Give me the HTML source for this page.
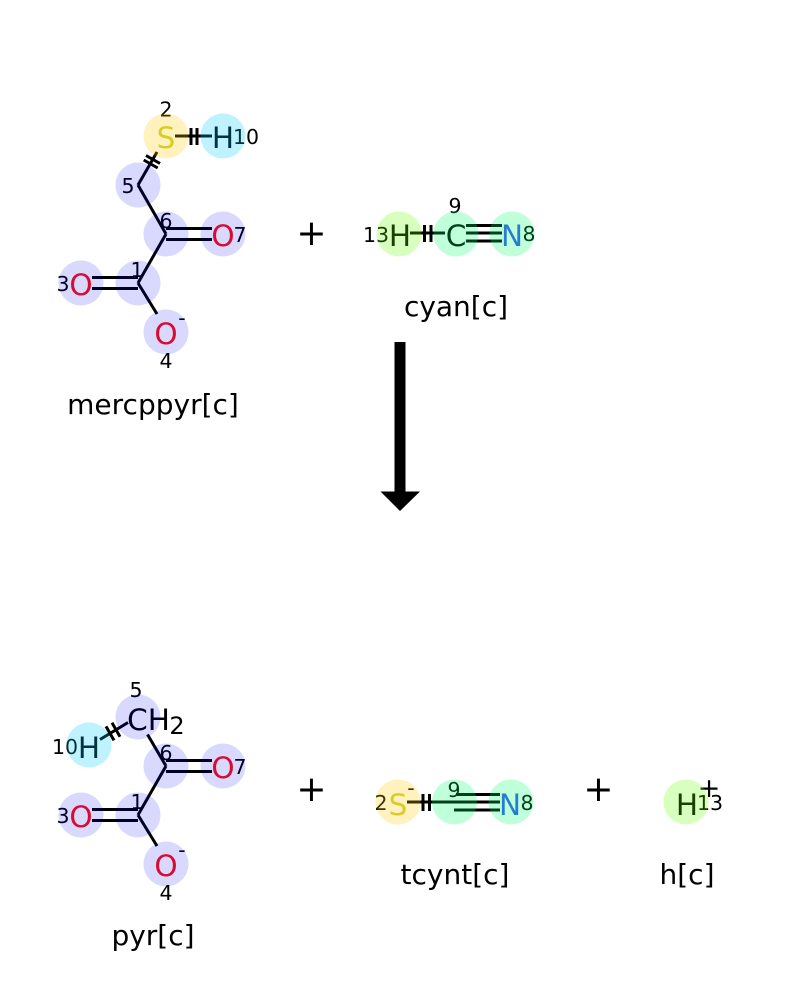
<!DOCTYPE html>
<html>
<head>
<meta charset="utf-8">
<style>
html,body{margin:0;padding:0;background:#fff;width:800px;height:1000px;overflow:hidden}
svg{display:block}
text{font-family:"DejaVu Sans",sans-serif;text-anchor:middle;fill:#000}
.a{font-size:29.5px}
.n{font-size:20.5px}
.l{font-size:28px}
.p{font-size:36px}
.O{fill:#ff0d0d}
.N{fill:#3050f8}
.S{fill:#cccc33}
line{stroke:#000;stroke-width:3}
.b{fill:#0000ff;fill-opacity:.15}
.c{fill:#00ccff;fill-opacity:.25}
.g{fill:#00ff66;fill-opacity:.25}
.h{fill:#66ff00;fill-opacity:.25}
.y{fill:#ffcc00;fill-opacity:.25}
</style>
</head>
<body>
<svg xmlns="http://www.w3.org/2000/svg" width="800" height="1000" viewBox="0 0 800 1000">
<!-- mercppyr bonds -->
<line x1="138" y1="185" x2="157" y2="152"/>
<line x1="143.7" y1="160" x2="157.7" y2="168"/>
<line x1="146" y1="155.5" x2="160" y2="163.5"/>
<line x1="175" y1="136" x2="212" y2="136"/>
<line x1="191" y1="128" x2="191" y2="145"/>
<line x1="197" y1="128" x2="197" y2="145"/>
<line x1="138" y1="185" x2="166" y2="234"/>
<line x1="166" y1="234" x2="138" y2="283"/>
<line x1="166" y1="228.5" x2="212" y2="228.5"/>
<line x1="166" y1="239.5" x2="212" y2="239.5"/>
<line x1="92" y1="277.5" x2="138" y2="277.5"/>
<line x1="92" y1="288.5" x2="138" y2="288.5"/>
<line x1="138" y1="283" x2="157" y2="314"/>
<!-- mercppyr text -->
<text class="a S" x="166" y="148">S</text>
<text class="a" x="223" y="148">H</text>
<text class="a O" x="223" y="246">O</text>
<text class="a O" x="81" y="295">O</text>
<text class="a O" x="166" y="344">O</text>
<text class="n" x="182" y="325">-</text>
<text class="n" x="166" y="116.5">2</text>
<text class="n" x="246" y="144">10</text>
<text class="n" x="128" y="193">5</text>
<text class="n" x="166" y="228">6</text>
<text class="n" x="240" y="242">7</text>
<text class="n" x="137" y="277">1</text>
<text class="n" x="63" y="291">3</text>
<text class="n" x="166" y="368">4</text>
<text class="l" x="153" y="414">mercppyr[c]</text>
<circle class="y" cx="166" cy="136" r="22.5"/>
<circle class="c" cx="223" cy="136" r="22.5"/>
<circle class="b" cx="138" cy="185" r="22.5"/>
<circle class="b" cx="166" cy="234" r="22.5"/>
<circle class="b" cx="223" cy="234" r="22.5"/>
<circle class="b" cx="138" cy="283" r="22.5"/>
<circle class="b" cx="81" cy="283" r="22.5"/>
<circle class="b" cx="166" cy="332" r="22.5"/>

<text class="p" x="311.5" y="245">+</text>

<!-- cyan -->
<line x1="410" y1="233" x2="445" y2="233"/>
<line x1="424.5" y1="225" x2="424.5" y2="242"/>
<line x1="431" y1="225" x2="431" y2="242"/>
<line x1="466" y1="225.5" x2="502" y2="225.5"/>
<line x1="466" y1="233" x2="502" y2="233"/>
<line x1="466" y1="241" x2="502" y2="241"/>
<text class="a" x="400" y="246">H</text>
<text class="a" x="456" y="246">C</text>
<text class="a N" x="512" y="246">N</text>
<text class="n" x="376" y="242">13</text>
<text class="n" x="455" y="213">9</text>
<text class="n" x="529" y="241">8</text>
<text class="l" x="456" y="316">cyan[c]</text>
<circle class="h" cx="399" cy="234" r="22.5"/>
<circle class="g" cx="456" cy="234" r="22.5"/>
<circle class="g" cx="512" cy="234" r="22.5"/>

<!-- arrow -->
<polygon points="394.5,342 405.5,342 405.5,491.5 420,491.5 400,511 380.5,491.5 394.5,491.5" fill="#000"/>

<!-- pyr bonds -->
<line x1="100" y1="739.5" x2="128" y2="722.5"/>
<line x1="106" y1="726.4" x2="114" y2="740.4"/>
<line x1="112" y1="722.8" x2="120" y2="736.8"/>
<line x1="147.5" y1="734.5" x2="166" y2="766"/>
<line x1="166" y1="766" x2="138" y2="815"/>
<line x1="166" y1="760.5" x2="212" y2="760.5"/>
<line x1="166" y1="771.5" x2="212" y2="771.5"/>
<line x1="92" y1="809.5" x2="138" y2="809.5"/>
<line x1="92" y1="820.5" x2="138" y2="820.5"/>
<line x1="138" y1="815" x2="157" y2="846"/>
<text class="a" x="148.5" y="730">CH</text>
<text style="font-size:24px" x="177" y="734">2</text>
<text class="a" x="89" y="758">H</text>
<text class="a O" x="223" y="778">O</text>
<text class="a O" x="81" y="827">O</text>
<text class="a O" x="166" y="876">O</text>
<text class="n" x="182" y="857">-</text>
<text class="n" x="136" y="697">5</text>
<text class="n" x="65" y="754">10</text>
<text class="n" x="166" y="760">6</text>
<text class="n" x="240" y="774">7</text>
<text class="n" x="137" y="809">1</text>
<text class="n" x="63" y="823">3</text>
<text class="n" x="166" y="900">4</text>
<text class="l" x="153" y="945">pyr[c]</text>
<circle class="b" cx="138" cy="717" r="22.5"/>
<circle class="c" cx="89" cy="745" r="22.5"/>
<circle class="b" cx="166" cy="766" r="22.5"/>
<circle class="b" cx="223" cy="766" r="22.5"/>
<circle class="b" cx="138" cy="815" r="22.5"/>
<circle class="b" cx="81" cy="815" r="22.5"/>
<circle class="b" cx="166" cy="864" r="22.5"/>

<text class="p" x="311.5" y="801">+</text>

<!-- tcynt -->
<line x1="407" y1="802" x2="454" y2="802"/>
<line x1="423" y1="794" x2="423" y2="811"/>
<line x1="429.5" y1="794" x2="429.5" y2="811"/>
<line x1="456" y1="794.5" x2="500" y2="794.5"/>
<line x1="454" y1="802" x2="500" y2="802"/>
<line x1="454" y1="810" x2="500" y2="810"/>
<text class="a S" x="398" y="815">S</text>
<text class="a N" x="510" y="815">N</text>
<text class="n" x="411" y="795">-</text>
<text class="n" x="381" y="810">2</text>
<text class="n" x="454" y="797">9</text>
<text class="n" x="527" y="810">8</text>
<text class="l" x="455" y="884">tcynt[c]</text>
<circle class="y" cx="398" cy="802" r="22.5"/>
<circle class="g" cx="454.5" cy="802" r="22.5"/>
<circle class="g" cx="511" cy="802" r="22.5"/>

<text class="p" x="598.5" y="801">+</text>

<!-- h -->
<text class="a" x="687" y="815">H</text>
<text style="font-size:27px" x="709" y="797">+</text>
<text class="n" x="710" y="810">13</text>
<text class="l" x="687" y="884">h[c]</text>
<circle class="h" cx="686" cy="802" r="22.5"/>
</svg>
</body>
</html>
